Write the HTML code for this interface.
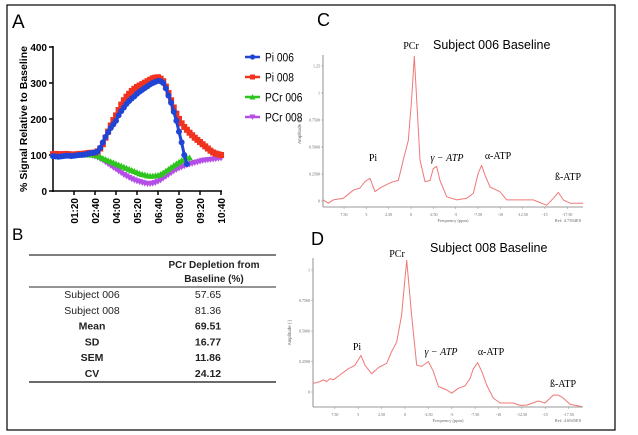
<!DOCTYPE html>
<html><head><meta charset="utf-8"><style>
body{margin:0;background:#fff;width:638px;height:435px;overflow:hidden;font-family:"Liberation Sans",sans-serif}
svg{display:block}
</style></head><body>
<svg width="638" height="435" viewBox="0 0 638 435" xmlns="http://www.w3.org/2000/svg">
<rect x="7" y="5" width="608" height="425" fill="#fff" stroke="#000" stroke-width="1.2"/>
<g id="panelA"></g>
<g id="panelB"></g>
<g id="panelC"></g>
<g id="panelD"></g>
</svg>
<script>
const NS="http://www.w3.org/2000/svg";
// ---- Panel A data ----
const timeStep=10;
const yTicksA=[0,100,200,300,400];
const xTickSecs=[80,160,240,320,400,480,560,640];
const xTickLabels=["01:20","02:40","04:00","05:20","06:40","08:00","09:20","10:40"];
const seriesNames=["Pi 006","Pi 008","PCr 006","PCr 008"];
const pi006=[97,96,95,96,97,98,98,97,98,99,100,100,101,103,105,106,107,110,120,135,150,163,175,185,195,210,222,232,242,250,257,263,270,276,281,286,291,296,300,303,306,305,300,285,265,245,220,195,165,135,100,75];
const pi008=[102,103,102,101,102,103,102,101,101,102,103,103,104,105,106,106,107,110,118,130,148,165,182,197,210,225,240,252,262,270,278,284,289,293,297,301,305,309,313,315,316,312,305,290,272,252,232,215,200,188,178,170,162,155,148,142,136,130,124,118,112,107,104,102,100];
const pcr006=[100,100,100,100,100,100,100,100,100,100,100,100,100,100,100,100,99,97,94,90,87,84,81,78,75,72,69,66,63,60,57,54,51,48,46,44,42,41,41,42,43,46,50,55,60,65,70,75,80,84,88,91,92];
const pcr008=[103,103,104,104,104,103,103,103,102,102,102,102,101,101,100,99,97,94,90,86,81,76,71,66,61,56,51,46,42,38,34,31,28,26,24,22,21,21,22,24,27,31,36,41,46,51,56,60,64,67,70,73,75,77,79,81,83,85,86,87,88,89,90,91,92];
// ---- Panel B data ----
const tableRows=["Subject 006","Subject 008","Mean","SD","SEM","CV"];
const tableVals=["57.65","81.36","69.51","16.77","11.86","24.12"];
// ---- Panel C data ----
const ppmC=[9.82,9.26,8.70,7.58,6.46,5.71,5.15,4.59,4.03,3.47,2.54,1.98,1.42,0.86,0.30,-0.07,-0.37,-0.64,-1.01,-1.57,-2.13,-2.50,-2.87,-3.25,-4.00,-5.12,-6.24,-6.98,-7.54,-7.91,-8.29,-8.85,-9.97,-10.72,-12.21,-13.70,-15.20,-15.94,-16.50,-17.06,-17.81,-19.30];
const ampC=[0.01,-0.02,0.01,0.025,0.10,0.12,0.18,0.21,0.086,0.12,0.16,0.18,0.19,0.38,0.56,0.94,1.34,0.94,0.38,0.18,0.19,0.30,0.32,0.19,0.04,0.01,0.025,0.07,0.26,0.33,0.24,0.13,0.086,0.01,0.01,0.01,-0.04,0.025,0.08,0.01,-0.02,-0.02];
// ---- Panel D data ----
const ppmD=[9.88,9.09,8.73,8.38,8.02,7.66,6.95,6.06,5.35,4.71,4.28,3.57,2.85,1.96,1.43,0.89,0.36,-0.18,-0.71,-1.25,-1.78,-2.50,-3.03,-3.57,-4.46,-4.99,-5.70,-6.42,-6.95,-7.31,-7.77,-8.20,-8.74,-9.44,-10.16,-11.58,-12.30,-13.02,-14.26,-14.97,-15.86,-16.40,-16.93,-17.65,-18.90];
const ampD=[0.07,0.085,0.10,0.085,0.11,0.10,0.14,0.19,0.22,0.30,0.22,0.15,0.20,0.235,0.33,0.41,0.63,1.08,0.63,0.22,0.21,0.25,0.17,0.045,0.016,-0.01,0.03,0.05,0.11,0.19,0.24,0.17,0.057,-0.05,-0.09,-0.09,-0.11,-0.107,-0.074,-0.09,-0.025,-0.025,-0.05,-0.10,-0.12];
const ppmTicks=[7.5,5,2.5,0,-2.5,-5,-7.5,-10,-12.5,-15,-17.5];
const ppmTickLabels=["7.50","5","2.50","0","-2.50","-5","-7.50","-10","-12.50","-15","-17.50"];
const ampTicks=[0,0.25,0.5,0.75,1,1.25];
const ampTickLabels=["0","0.2500","0.5000","0.7500","1","1.25"];

function el(tag,attrs,parent,text){const e=document.createElementNS(NS,tag);for(const k in attrs)e.setAttribute(k,attrs[k]);if(text!==undefined)e.textContent=text;parent.appendChild(e);return e;}

// ===== Panel A =====
(function(){
const g=document.getElementById('panelA');
const xA=t=>53+t*(168/640), yA=v=>191-v*0.36;
let t=el('text',{x:12,y:28,'font-size':19},g,'A');

el('line',{x1:53,y1:46,x2:53,y2:192,stroke:'#000','stroke-width':1.5},g);
el('line',{x1:52,y1:191,x2:222,y2:191,stroke:'#000','stroke-width':1.5},g);
yTicksA.forEach(v=>{
 el('line',{x1:49,y1:yA(v),x2:53,y2:yA(v),stroke:'#000','stroke-width':1.5},g);
 const tx=el('text',{x:47,y:yA(v)+4,'font-size':10,'font-weight':'bold','text-anchor':'end'},g,String(v));
 
});
xTickSecs.forEach((s,i)=>{
 el('line',{x1:xA(s),y1:191,x2:xA(s),y2:195,stroke:'#000','stroke-width':1.5},g);
 const tx=el('text',{x:0,y:0,'font-size':10,'font-weight':'bold','text-anchor':'end',transform:`translate(${xA(s)+4},198) rotate(-90)`},g,xTickLabels[i]);
 
});
const yt=el('text',{x:0,y:0,'font-size':10.5,'font-weight':'bold','text-anchor':'middle',transform:'translate(27,119) rotate(-90)'},g,'% Signal Relative to Baseline');

const cols=['#1f44d6','#f0321e','#2ec51e','#b44ee6'];
const data=[pi006,pi008,pcr006,pcr008];
const order=[3,2,1,0];
order.forEach(si=>{
 const arr=data[si];
 const pts=arr.map((v,i)=>`${xA(i*timeStep).toFixed(1)},${yA(v).toFixed(1)}`).join(' ');
 const pl=el('polyline',{points:pts,fill:'none',stroke:cols[si],'stroke-width':3},g);
 
 arr.forEach((v,i)=>{
  const x=xA(i*timeStep),y=yA(v);let m;
  if(si===0)m=el('circle',{cx:x,cy:y,r:3,fill:cols[si]},g);
  else if(si===1)m=el('rect',{x:x-3,y:y-3,width:6,height:6,fill:cols[si]},g);
  else if(si===2)m=el('polygon',{points:`${x},${y-3.5} ${x-3.5},${y+2.5} ${x+3.5},${y+2.5}`,fill:cols[si]},g);
  else m=el('polygon',{points:`${x},${y+3.5} ${x-3.5},${y-2.5} ${x+3.5},${y-2.5}`,fill:cols[si]},g);
  
 });
});
seriesNames.forEach((n,i)=>{
 const y=57+i*20;
 const lg=el('g',{},g);
 
 el('line',{x1:245,y1:y,x2:260,y2:y,stroke:cols[i],'stroke-width':2.5},lg);
 if(i===0)el('circle',{cx:252.5,cy:y,r:2.6,fill:cols[i]},lg);
 else if(i===1)el('rect',{x:250,y:y-2.5,width:5,height:5,fill:cols[i]},lg);
 else if(i===2)el('polygon',{points:`252.5,${y-3} 249.5,${y+2.5} 255.5,${y+2.5}`,fill:cols[i]},lg);
 else el('polygon',{points:`252.5,${y+3} 249.5,${y-2.5} 255.5,${y-2.5}`,fill:cols[i]},lg);
 el('text',{x:265,y:y+4.5,'font-size':12,transform:`translate(${265*0.15},0) scale(0.85,1)`},lg,n);
});
})();

// ===== Panel B =====
(function(){
const g=document.getElementById('panelB');
const l=el('text',{x:12,y:240,'font-size':17},g,'B');
el('line',{x1:29,y1:255,x2:276,y2:255,stroke:'#555','stroke-width':1.5},g);
el('line',{x1:29,y1:287,x2:276,y2:287,stroke:'#555','stroke-width':1.2},g);
el('line',{x1:29,y1:382,x2:276,y2:382,stroke:'#555','stroke-width':1.8},g);
const f='"Liberation Sans",sans-serif';
const h1=el('text',{x:214,y:268,'font-size':10,'font-weight':'bold','text-anchor':'middle','font-family':f,fill:'#222'},g,'PCr Depletion from');

el('text',{x:214,y:282,'font-size':10,'font-weight':'bold','text-anchor':'middle','font-family':f,fill:'#222'},g,'Baseline (%)');
tableRows.forEach((r,i)=>{
 const y=298+i*15.8;const b=i>=2?'bold':'normal';
 const a=el('text',{x:92,y:y,'font-size':10.5,'font-weight':b,'text-anchor':'middle','font-family':f,fill:'#222'},g,r);
 
 const v=el('text',{x:208,y:y,'font-size':10.5,'font-weight':b,'text-anchor':'middle','font-family':f,fill:'#222'},g,tableVals[i]);
 
});
})();

// ===== Spectra =====
function spectrum(g,o){
 const xS=p=>o.x0-p*o.ppx, yS=a=>o.y0-a*o.apx;
 const l=el('text',{x:o.lx,y:o.ly,'font-size':18},g,o.letter);
 el('line',{x1:o.ax,y1:o.top,x2:o.ax,y2:o.bot,stroke:'#777','stroke-width':0.8},g);
 el('line',{x1:o.ax,y1:o.bot,x2:o.right,y2:o.bot,stroke:'#777','stroke-width':0.8},g);
 ppmTicks.forEach((p,i)=>{el('line',{x1:xS(p),y1:o.bot,x2:xS(p),y2:o.bot+2,stroke:'#999','stroke-width':0.6},g);
  el('text',{x:xS(p),y:o.bot+9,'font-size':4,'text-anchor':'middle',fill:'#666','font-family':'Liberation Serif,serif'},g,ppmTickLabels[i]);});
 ampTicks.forEach((a,i)=>{if(yS(a)<o.top)return;el('line',{x1:o.ax-2,y1:yS(a),x2:o.ax,y2:yS(a),stroke:'#999','stroke-width':0.6},g);
  el('text',{x:o.ax-3,y:yS(a)+1.5,'font-size':4,'text-anchor':'end',fill:'#666','font-family':'Liberation Serif,serif'},g,ampTickLabels[i]);});
 el('text',{x:(o.ax+o.right)/2,y:o.bot+15,'font-size':4.5,'text-anchor':'middle',fill:'#666','font-family':'Liberation Serif,serif'},g,'Frequency (ppm)');
 el('text',{x:o.right-2,y:o.bot+15,'font-size':4.5,'text-anchor':'end',fill:'#666','font-family':'Liberation Serif,serif'},g,o.ref);
 el('text',{x:0,y:0,'font-size':4.5,'text-anchor':'middle',fill:'#666',transform:`translate(${o.ax-22},${(o.top+o.bot)/2}) rotate(-90)`},g,'Amplitude (-)');
 const pts=o.ppm.map((p,i)=>`${xS(p).toFixed(1)},${yS(o.amp[i]).toFixed(1)}`).join(' ');
 const pl=el('polyline',{points:pts,fill:'none',stroke:'#f07878','stroke-width':1,'stroke-linejoin':'round'},g);
 
 const ti=el('text',{x:o.tx,y:o.ty,'font-size':12.5},g,o.title);
 const sf='"Liberation Serif",serif';
 o.labels.forEach(L=>{const t=el('text',{x:L[1],y:L[2],'font-size':10,'font-family':sf,'text-anchor':'middle','font-style':L[3]||'normal'},g,L[0]);
  });
}
spectrum(document.getElementById('panelC'),{letter:'C',lx:317,ly:26,ax:323,top:55,bot:207,right:583,x0:411,ppx:8.93,y0:201,apx:108,
 ppm:ppmC,amp:ampC,title:'Subject 006 Baseline',tx:433,ty:49,ref:'Ref: 4.7394E0',
 labels:[['PCr',411,49],['Pi',373,161],['γ − ATP',447,161,'italic'],['α-ATP',498,159],['ß-ATP',568,180]]});
spectrum(document.getElementById('panelD'),{letter:'D',lx:311,ly:245,ax:313,top:258,bot:407,right:583,x0:405,ppx:9.35,y0:392,apx:122,
 ppm:ppmD,amp:ampD,title:'Subject 008 Baseline',tx:430,ty:252,ref:'Ref: 4.6945E0',
 labels:[['PCr',397,257],['Pi',357,350],['γ − ATP',441,355,'italic'],['α-ATP',491,355],['ß-ATP',563,387]]});
</script>
</body></html>
